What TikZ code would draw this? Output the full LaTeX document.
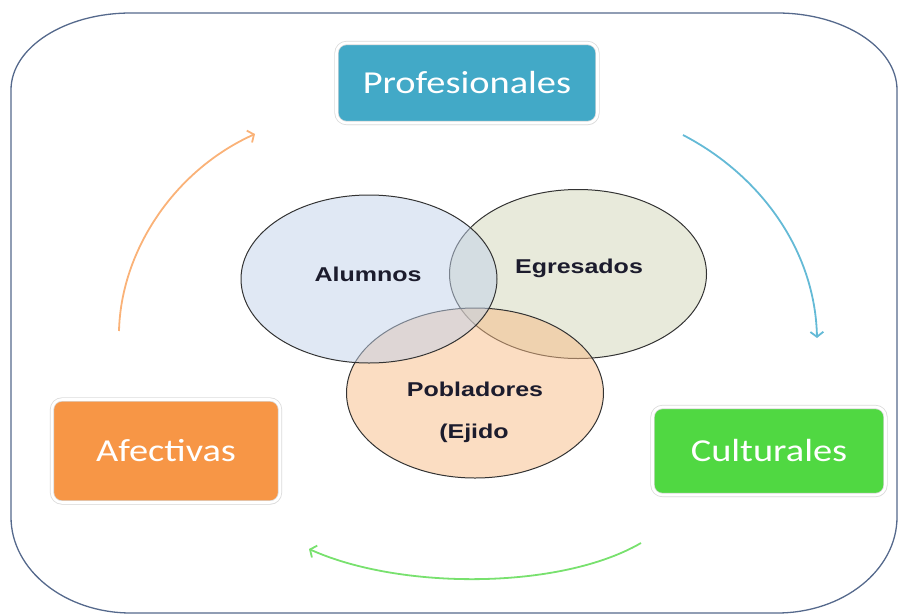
\documentclass[tikz,border=0pt]{standalone}
\usepackage{fontspec}
\usepackage{xcolor}
\usepackage{tikz}
\usetikzlibrary{arrows.meta,shapes.geometric,shadows}
\newfontfamily\boxfont[FakeStretch=1.2]{Carlito}
\newfontfamily\vennfont[FakeStretch=1.25]{Liberation Sans}
\definecolor{framec}{RGB}{85,105,140}
\definecolor{profc}{RGB}{66,169,199}
\definecolor{afectc}{RGB}{247,150,70}
\definecolor{cultc}{RGB}{80,216,66}
\definecolor{alumc}{RGB}{193,209,233}
\definecolor{egrec}{RGB}{209,213,183}
\definecolor{poblc}{RGB}{247,187,133}
\definecolor{vtext}{RGB}{28,28,45}
\definecolor{orarrow}{RGB}{250,178,120}
\definecolor{blarrow}{RGB}{100,186,214}
\definecolor{grarrow}{RGB}{120,225,110}

\begin{document}
\begin{tikzpicture}[x=1pt, y=-1pt,
  catbox/.style={draw=black!14, double=white, double distance=2.6pt, line width=0.8pt,
    rounded corners=10pt, text=white,
    font=\boxfont\fontsize{32}{38}\selectfont,
    drop shadow={shadow xshift=1pt, shadow yshift=-2pt, opacity=0.15}},
  venn/.style={ellipse, draw=black!80, line width=1pt, fill opacity=0.5,
    minimum width=256pt, minimum height=168pt, inner sep=0pt},
  vlabel/.style={text=vtext, font=\vennfont\bfseries\fontsize{20}{24}\selectfont},
  cyclearrow/.style={line width=1.8pt, -{Straight Barb[length=5pt,width=13pt]}},
]
\useasboundingbox (0,0) rectangle (899,613);
% outer frame
\draw[framec, line width=1.3pt] (131,13) -- (777,13)
  arc[start angle=-90, end angle=0, x radius=120, y radius=77] -- (897,517)
  arc[start angle=0, end angle=90, x radius=120, y radius=96] -- (131,613)
  arc[start angle=90, end angle=180, x radius=120, y radius=96] -- (11,90)
  arc[start angle=180, end angle=270, x radius=120, y radius=77] -- cycle;
% category boxes
\node[catbox, fill=profc, minimum width=261pt, minimum height=80pt] (prof) at (467,83) {Profesionales};
\node[catbox, fill=afectc, minimum width=228pt, minimum height=103pt] (afect) at (166,451) {Afectivas};
\node[catbox, fill=cultc, minimum width=233pt, minimum height=88pt] (cult) at (769,451) {Culturales};
% venn circles
\node[venn, fill=egrec, minimum width=257pt, minimum height=169pt] (egre) at (578,274) {};
\node[venn, fill=poblc, minimum width=257pt, minimum height=170pt] (pobl) at (475,393) {};
\node[venn, fill=alumc] (alum) at (369,279) {};
\node[vlabel] (alumtxt) at (368,274) {Alumnos};
\node[vlabel] (egretxt) at (579,268) {Egresados};
\node[vlabel] (pobltxt) at (475,389) {Pobladores};
\node[vlabel] (ejidotxt) at (474,433) {(Ejido};
% cycle arrows
\coordinate (oa) at (119,331);
\coordinate (ob) at (255,134);
\coordinate (ba) at (683,135);
\coordinate (bb) at (817,338);
\coordinate (ga) at (641,543);
\coordinate (gb) at (309,549);
\draw[cyclearrow, orarrow] (oa) .. controls (121,250) and (175,170) .. (ob);
\draw[cyclearrow, blarrow] (ba) .. controls (760,175) and (815,250) .. (bb);
\draw[cyclearrow, grarrow] (ga) .. controls (560,590) and (400,590) .. (gb);
\end{tikzpicture}
\end{document}
